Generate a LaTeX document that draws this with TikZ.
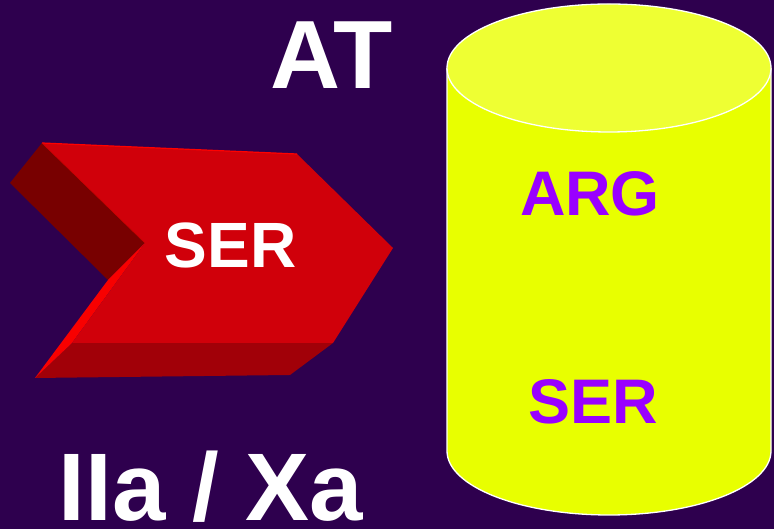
\documentclass[tikz,border=0pt]{standalone}
\usepackage{fontspec}
\setmainfont{Liberation Sans}
\definecolor{bgcol}{HTML}{2E004E}
\definecolor{frontred}{HTML}{D0000A}
\definecolor{sidered}{HTML}{780000}
\definecolor{bottomred}{HTML}{A10008}
\definecolor{notchred}{HTML}{F80000}
\definecolor{cyltop}{HTML}{EEFF33}
\definecolor{cylside}{HTML}{E8FF00}
\definecolor{purpletext}{HTML}{9900FF}
\tikzset{
  lbl/.style={inner sep=0pt, anchor=base, text depth=0pt, font=\bfseries\fontsize{#1}{#1}\selectfont},
  whitelbl/.style={lbl=#1, text=white},
  purplelbl/.style={lbl=#1, text=purpletext},
  cylline/.style={draw=white, line width=1.3pt},
}
\begin{document}
\begin{tikzpicture}[x=1pt,y=1pt]
\fill[bgcol] (0,0) rectangle (774,529);
\useasboundingbox (0,0) rectangle (774,529);
% arrow corners
\coordinate (A) at (42,386);
\coordinate (B) at (297,375);
\coordinate (C) at (393,281);
\coordinate (D) at (333,186);
\coordinate (E) at (72,186);
\coordinate (F) at (145,286);
\coordinate (G) at (10,346);
\coordinate (H) at (108,249);
\coordinate (I) at (35,151);
\coordinate (J) at (290,154);
% faces
\fill[sidered] (G) -- (A) -- (F) -- (H) -- cycle;
\fill[bottomred] (E) -- (D) -- (J) -- (I) -- cycle;
\fill[notchred] (F) -- (H) -- (I) -- (E) -- cycle;
\fill[frontred] (A) -- (B) -- (C) -- (D) -- (E) -- (F) -- cycle;
\draw[red, line width=1.2pt] (A) -- (B);
\draw[red!80!black, line width=0.6pt] (A) -- (F);
% cylinder
\coordinate (cylTL) at (447,461);
\coordinate (cylBL) at (447,78);
\coordinate (cylTR) at (771,461);
\fill[cylside] (cylTL) -- (cylBL) arc[start angle=180, end angle=360, x radius=162, y radius=64] -- (cylTR) -- cycle;
\draw[cylline] (cylTL) -- (cylBL) arc[start angle=180, end angle=360, x radius=162, y radius=64] -- (cylTR);
\filldraw[fill=cyltop, cylline] (609,461) ellipse[x radius=162, y radius=64];
% texts
\node[whitelbl=97] (at) at (332,440) {AT};
\node[whitelbl=64] (ser1) at (230.5,261) {SER};
\node[purplelbl=63] (arg) at (590,313) {ARG};
\node[purplelbl=63] (ser2) at (593,105) {SER};
\node[whitelbl=96] (iia) at (211,8) {IIa / Xa};
\end{tikzpicture}
\end{document}
